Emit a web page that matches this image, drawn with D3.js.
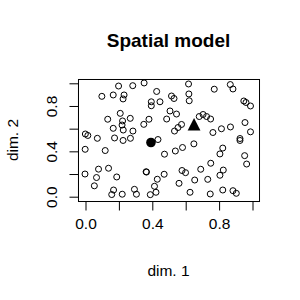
<!DOCTYPE html>
<html>
<head>
<meta charset="utf-8">
<script src="https://cdn.jsdelivr.net/npm/d3@7"></script>
<style>
  body { margin: 0; background: #fff; }
  svg text { font-family: "Liberation Sans", Arial, sans-serif; fill: #000; }
</style>
</head>
<body>
<div id="chart"></div>
<script>
// voters (open circles)
const voterX = [0.198, 0.283, 0.351, 0.426, 0.098, 0.166, 0.231, 0.225, 0.394, 0.394,
  0.446, 0.515, 0.530, 0.617, 0.619, 0.621, 0.771, 0.867, 0.883, 0.948,
  0.961, 0.988, 0.208, 0.133, 0.268, 0.222, 0.219, 0.166, 0.226, 0.284,
  0.349, 0.380, 0.486, 0.506, 0.545, 0.681, 0.704, 0.725, 0.749, 0.575,
  0.554, 0.533, 0.763, 0.814, 0.868, 0.955, 0.988, 0.925, 0.925, -0.001,
  0.014, 0.071, 0.174, 0.225, 0.269, 0.434, 0.649, 0.581, 0.538, 0.473,
  0.822, 0.805, 0.953, 0.965, -0.002, 0.118, -0.003, 0.078, 0.066, 0.138,
  0.187, 0.053, 0.168, 0.157, 0.220, 0.293, 0.305, 0.363, 0.365, 0.430,
  0.471, 0.413, 0.422, 0.388, 0.578, 0.599, 0.560, 0.654, 0.690, 0.732,
  0.750, 0.825, 0.805, 0.626, 0.747, 0.822, 0.883, 0.903];
const voterY = [0.976, 0.979, 1.003, 0.928, 0.885, 0.897, 0.897, 0.862, 0.837, 0.802,
  0.837, 0.888, 0.866, 0.994, 0.906, 0.846, 0.948, 0.989, 0.950, 0.844,
  0.831, 0.800, 0.735, 0.683, 0.691, 0.668, 0.632, 0.603, 0.588, 0.579,
  0.638, 0.683, 0.685, 0.756, 0.729, 0.707, 0.725, 0.707, 0.685, 0.637,
  0.610, 0.579, 0.566, 0.599, 0.615, 0.654, 0.572, 0.513, 0.496, 0.553,
  0.540, 0.515, 0.518, 0.496, 0.515, 0.504, 0.466, 0.434, 0.403, 0.375,
  0.429, 0.377, 0.362, 0.288, 0.418, 0.407, 0.200, 0.243, 0.169, 0.251,
  0.174, 0.096, 0.059, 0.019, 0.022, 0.065, 0.022, 0.220, 0.217, 0.154,
  0.198, 0.092, 0.039, 0.018, 0.231, 0.212, 0.118, 0.147, 0.242, 0.153,
  0.295, 0.235, 0.189, 0.039, 0.024, 0.059, 0.053, 0.030];

// the two highlighted positions
const dotPoint = [0.392, 0.478];
const trianglePoint = [0.650, 0.635];

const tickValues = [0, 0.2, 0.4, 0.6, 0.8, 1.0];
const labelValues = [0, 0.4, 0.8];

const width = 300, height = 300;

const x = d3.scaleLinear().domain([0, 1]).range([85.5, 252.5]);
const y = d3.scaleLinear().domain([0, 1]).range([196.7, 83.3]);

const svg = d3.select('#chart').append('svg')
  .attr('width', width)
  .attr('height', height);

// plot box (R pads the range by 4%)
svg.append('rect')
  .attr('x', x(-0.045) + 0.5)
  .attr('y', y(1.038) + 0.5)
  .attr('width', x(1.039) - x(-0.045))
  .attr('height', y(-0.038) - y(1.038))
  .attr('fill', 'none')
  .attr('stroke', '#000')
  .attr('stroke-width', 1);

const fmt = d3.format('.1f');

const xAxis = svg.append('g')
  .attr('transform', `translate(0,${y(-0.038) + 0.5})`)
  .call(d3.axisBottom(x).tickValues(tickValues).tickSize(9)
    .tickFormat(d => labelValues.includes(d) ? fmt(d) : ''));
xAxis.select('.domain').attr('d', `M${x(0)},0H${x(1)}`);
xAxis.selectAll('text').attr('y', 16).style('font-size', '15.5px');

const yAxis = svg.append('g')
  .attr('transform', `translate(${x(-0.045) + 0.5},0)`)
  .call(d3.axisLeft(y).tickValues(tickValues).tickSize(9)
    .tickFormat(d => labelValues.includes(d) ? fmt(d) : ''));
yAxis.select('.domain').attr('d', `M0,${y(0)}V${y(1)}`);
yAxis.selectAll('text')
  .attr('x', 0).attr('dy', 0)
  .attr('transform', 'translate(-21.5,0) rotate(-90)')
  .attr('text-anchor', 'middle')
  .style('font-size', '15.5px');
svg.selectAll('.tick line, .domain').attr('stroke', '#000');

svg.selectAll('circle.voter')
  .data(voterX.map((v, i) => [v, voterY[i]]))
  .join('circle')
  .attr('class', 'voter')
  .attr('cx', d => x(d[0]))
  .attr('cy', d => y(d[1]))
  .attr('r', 3)
  .attr('fill', 'none')
  .attr('stroke', '#000')
  .attr('stroke-width', 1);

svg.append('circle')
  .attr('cx', x(dotPoint[0]))
  .attr('cy', y(dotPoint[1]))
  .attr('r', 4.8)
  .attr('fill', '#000');

const tx = x(trianglePoint[0]), ty = y(trianglePoint[1]);
svg.append('path')
  .attr('d', `M${tx},${ty - 6.6}L${tx + 6.4},${ty + 5.9}L${tx - 6.4},${ty + 5.9}Z`)
  .attr('fill', '#000');

svg.append('text')
  .attr('x', 168.5).attr('y', 47)
  .attr('text-anchor', 'middle')
  .style('font-size', '19px')
  .style('font-weight', 'bold')
  .text('Spatial model');

svg.append('text')
  .attr('x', 168.5).attr('y', 276)
  .attr('text-anchor', 'middle')
  .style('font-size', '15.5px')
  .text('dim. 1');

svg.append('text')
  .attr('transform', `translate(18.3,${(y(-0.038) + y(1.038)) / 2}) rotate(-90)`)
  .attr('text-anchor', 'middle')
  .style('font-size', '15.5px')
  .text('dim. 2');
</script>
</body>
</html>
